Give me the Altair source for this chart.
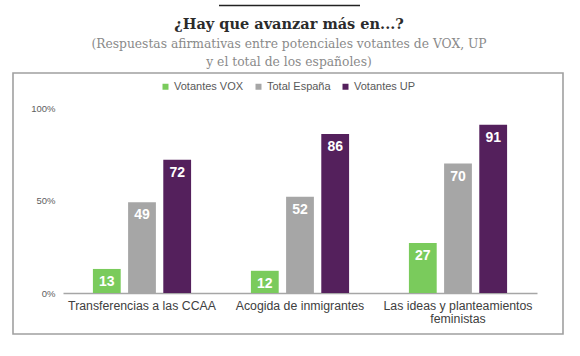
import altair as alt
import pandas as pd

categories = ["Transferencias a las CCAA", "Acogida de inmigrantes", "Las ideas y planteamientos feministas"]
series = ["Votantes VOX", "Total España", "Votantes UP"]
vox = [13, 12, 27]
total = [49, 52, 70]
up = [72, 86, 91]
colors = ["#7acb5c", "#a6a6a6", "#54205c"]
y_ticks = [0, 50, 100]

title_text = "¿Hay que avanzar más en...?"
subtitle_lines = ["(Respuestas afirmativas entre potenciales votantes de VOX, UP", "y el total de los españoles)"]

rows = []
for i, c in enumerate(categories):
    for s, vals in zip(series, [vox, total, up]):
        rows.append({"cat": c, "serie": s, "valor": vals[i]})
df = pd.DataFrame(rows)

W, H = 474, 185
PL, PT = 63, 108

x_enc = alt.X("cat:N", sort=categories, title=None,
              scale=alt.Scale(paddingInner=0, paddingOuter=0),
              axis=alt.Axis(labelAngle=0, ticks=False, domain=True, domainColor="#a6a6a6",
                            domainWidth=1.6, labelFont="Liberation Sans", labelFontSize=12.3,
                            labelColor="#404040", labelPadding=6, labelLimit=300, labelLineHeight=13.5,
                            labelExpr="datum.value == 'Las ideas y planteamientos feministas' ? ['Las ideas y planteamientos', 'feministas'] : datum.label"))
xoff = alt.XOffset("serie:N", sort=series, scale=alt.Scale(paddingInner=0.21, paddingOuter=0.85))
yscale = alt.Scale(domain=[0, 100], nice=False)
y_enc = alt.Y("valor:Q", title=None, scale=yscale,
              axis=alt.Axis(values=y_ticks, format=".0f", labelExpr="datum.label + '%'",
                            ticks=False, domain=False, grid=False, labelFont="Liberation Sans",
                            labelFontSize=9.5, labelColor="#606060", labelPadding=8))
color_enc = alt.Color("serie:N", sort=series,
                      scale=alt.Scale(domain=series, range=colors),
                      legend=alt.Legend(title=None, orient="none", direction="horizontal",
                                        legendX=97, legendY=-27, symbolType="square", symbolSize=36,
                                        symbolStrokeWidth=0, labelFont="Liberation Sans",
                                        labelFontSize=11, labelColor="#595959", labelOffset=3,
                                        columnPadding=9))

bars = alt.Chart(df).mark_bar().encode(x=x_enc, xOffset=xoff, y=y_enc, color=color_enc)
labels = alt.Chart(df).mark_text(color="white", fontWeight="bold", font="Liberation Sans",
                                 fontSize=14, dy=13, baseline="middle").encode(
    x=alt.X("cat:N", sort=categories), xOffset=alt.XOffset("serie:N", sort=series),
    y=alt.Y("valor:Q", scale=yscale, axis=None), text="valor:Q")

frame = alt.Chart(pd.DataFrame({"k": [0]})).mark_rect(fill=None, stroke="#a0a0a0", strokeWidth=1.6).encode(
    x=alt.value(13 - PL), x2=alt.value(563 - PL), y=alt.value(73 - PT), y2=alt.value(334 - PT))
topline = alt.Chart(pd.DataFrame({"k": [0]})).mark_rule(color="#222222", strokeWidth=1.5).encode(
    x=alt.value(219 - PL), x2=alt.value(360 - PL), y=alt.value(5.5 - PT))
title = alt.Chart(pd.DataFrame({"t": [title_text]})).mark_text(
    font="DejaVu Serif", fontWeight="bold", fontSize=14.5, color="#2b2b2b", baseline="alphabetic").encode(
    x=alt.value(289 - PL), y=alt.value(29 - PT), text="t:N")
sub = alt.Chart(pd.DataFrame({"t": subtitle_lines, "i": [0, 1]})).mark_text(
    font="DejaVu Serif", fontSize=12.3, color="#8a8a8a", baseline="middle").encode(
    x=alt.value(289 - PL), y=alt.Y("i:Q", axis=None, scale=alt.Scale(domain=[0, 1], range=[44 - PT, 62 - PT], zero=False, nice=False)),
    text="t:N")

chart = alt.layer(frame, topline, title, sub, bars, labels).resolve_scale(y="independent").properties(
    width=W, height=H, autosize=alt.AutoSizeParams(type="none"),
    padding={"left": PL, "top": PT, "right": 580 - PL - W, "bottom": 356 - PT - H}
).configure_view(stroke=None)

chart.save("out.html", embed_options={"renderer": "svg", "actions": False})
